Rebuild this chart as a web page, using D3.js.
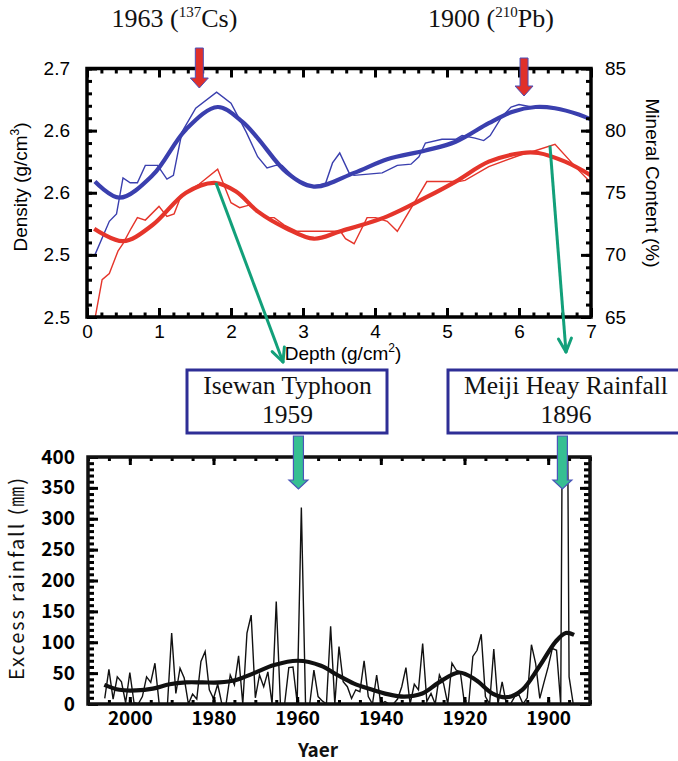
<!DOCTYPE html>
<html><head><meta charset="utf-8">
<script src="https://cdn.jsdelivr.net/npm/d3@7"></script>
<style>body{margin:0;background:#fff}svg{display:block}</style>
</head><body>
<script>
// ---------------- DATA ----------------
// Top panel: depth (g/cm2) profiles
const blueThinDepth   = [0.11,0.31,0.41,0.50,0.60,0.70,0.81,0.98,1.11,1.20,1.32,1.51,1.80,2.00,2.21,2.37,2.50,2.62,2.71,2.90,3.10,3.31,3.41,3.51,3.64,3.71,4.10,4.31,4.50,4.61,4.70,4.93,5.12,5.21,5.39,5.51,5.60,5.76,5.89,6.00,6.18,6.40,6.60,6.80,7.00];
const blueThinDensity = [2.550,2.577,2.583,2.612,2.608,2.608,2.622,2.622,2.611,2.614,2.649,2.668,2.681,2.672,2.649,2.629,2.620,2.622,2.622,2.611,2.605,2.607,2.624,2.632,2.616,2.614,2.616,2.622,2.623,2.629,2.640,2.643,2.643,2.646,2.644,2.642,2.646,2.661,2.669,2.671,2.669,2.669,2.667,2.663,2.659];
const blueSmoothDepth   = [0.11,0.45,0.91,1.375,1.815,2.16,2.37,2.78,3.15,3.71,4.17,4.70,5.12,5.58,5.90,6.23,6.50,6.83,7.00];
const blueSmoothDensity = [2.609,2.596,2.614,2.651,2.669,2.657,2.644,2.616,2.605,2.616,2.627,2.634,2.641,2.656,2.665,2.669,2.668,2.663,2.659];
const redThinDepth   = [0.115,0.21,0.31,0.43,0.50,0.61,0.70,0.81,1.00,1.11,1.21,1.31,1.56,1.815,2.00,2.12,2.25,2.37,2.50,2.60,2.74,2.92,3.52,3.59,3.71,3.89,4.01,4.17,4.31,4.72,5.16,5.25,5.58,6.00,6.18,6.50,6.83,7.00];
const redThinMineral = [65.0,68.0,68.5,70.3,70.9,72.1,73.0,72.8,73.9,73.1,73.3,74.8,75.7,76.9,74.2,73.8,74.0,73.5,73.0,73.0,72.4,71.9,71.9,71.3,70.9,73.0,73.0,72.7,71.9,75.9,75.9,76.0,77.1,78.0,78.3,78.9,76.8,75.8];
const redSmoothDepth   = [0.10,0.50,0.91,1.375,1.77,2.07,2.37,2.78,3.15,3.52,4.17,4.70,5.12,5.58,6.04,6.27,6.64,7.00];
const redSmoothMineral = [72.1,71.1,72.4,75.0,75.8,75.1,73.5,72.1,71.3,71.9,73.1,74.6,75.9,77.5,78.2,78.2,77.5,76.4];

const depthTicks = [0,1,2,3,4,5,6,7];
const densityTicks = [2.50,2.55,2.60,2.65,2.70];
const densityTickLabels = ["2.5","2.5","2.6","2.6","2.7"];
const mineralTicks = [65,70,75,80,85];

// Dating markers
const markerDepths = [1.56, 6.07];
const markerLabels = [["1963 (","137","Cs)"],["1900 (","210","Pb)"]];

// Bottom panel: annual excess rainfall (mm)
const rainYears = [2006,2005,2004,2003,2002,2001,2000,1999,1998,1997,1996,1995,1994,1993,1992,1991,1990,1989,1988,1987,
  1986,1985,1984,1983,1982,1981,1980,1979,1978,1977,1976,1975,1974,1973,1972,1971,1970,1969,1968,1967,
  1966,1965,1964,1963,1962,1961,1960,1959,1958,1957,1956,1955,1954,1953,1952,1951,1950,1949,1948,1947,
  1946,1945,1944,1943,1942,1941,1940,1939,1938,1937,1936,1935,1934,1933,1932,1931,1930,1929,1928,1927,
  1926,1925,1924,1923,1922,1921,1920,1919,1918,1917,1916,1915,1914,1913,1912,1911,1910,1909,1908,1907,
  1906,1905,1904,1903,1902,1901,1900,1899,1898,1897,1896,1895,1894];
const rainValues = [9,56,8,44,36,2,51,2,0,12,44,35,66,1,0,0,115,17,58,42,
  0,16,8,69,85,23,9,32,0,0,47,31,78,0,115,144,10,47,28,52,
  0,166,0,0,59,60,2,318,0,0,55,12,5,0,126,0,93,36,28,9,
  23,20,70,12,0,47,0,4,0,0,8,28,59,0,32,23,98,4,17,0,
  47,33,0,66,55,52,0,0,77,87,113,12,0,89,0,36,0,0,12,15,
  0,10,96,66,9,35,60,90,87,0,1200,44,0];
const rainSmoothYears  = [2006.1,2002.5,1998.5,1994.5,1990.5,1986.6,1982.6,1978.6,1974.6,1970.3,1965.5,1959.9,1954.3,1950.4,1946.4,1942.4,1938.4,1934.4,1930.1,1926.1,1921.3,1917.3,1913.3,1909.8,1906.2,1902.2,1898.2,1895.8,1893.8];
const rainSmoothValues = [31,23,22,25,32,35,35,35,39,50,63,70,62,47,33,24,16,12,17,35,51,39,17,11,23,60,101,115,112];
const yearTicks = [2000,1980,1960,1940,1920,1900];
const rainTicks = [0,50,100,150,200,250,300,350,400];

const eventYears = [1959.7, 1896.6];
const eventLabels = [["Isewan Typhoon","1959"],["Meiji Heay Rainfall","1896"]];

// ---------------- DRAW ----------------
const W=678,H=761;
const svg=d3.select("body").append("svg").attr("width",W).attr("height",H);
const BLUE="#3a3fae", RED="#e5352b", GREEN="#12a07a";
const SANS="'Liberation Sans', Arial, sans-serif";
const GOTH="'Noto Sans CJK JP', sans-serif";
const SERIF="'Liberation Serif', 'Times New Roman', serif";
const fmtInt=d3.format("d");

// ===== Top panel =====
const T={l:87,r:591,t:68.5,b:317};
const xD=d3.scaleLinear([0,7],[T.l,T.r]);
const yDen=d3.scaleLinear([2.5,2.7],[T.b,T.t]);
const yMin=d3.scaleLinear([65,85],[T.b,T.t]);

svg.append("clipPath").attr("id","clipTop").append("rect")
  .attr("x",T.l).attr("y",T.t).attr("width",T.r-T.l).attr("height",T.b-T.t);
const topG=svg.append("g").attr("clip-path","url(#clipTop)");

const lineDen=d3.line().x(d=>xD(d[0])).y(d=>yDen(d[1]));
const lineMin=d3.line().x(d=>xD(d[0])).y(d=>yMin(d[1]));
const smoothDen=d3.line().x(d=>xD(d[0])).y(d=>yDen(d[1])).curve(d3.curveCatmullRom);
const smoothMin=d3.line().x(d=>xD(d[0])).y(d=>yMin(d[1])).curve(d3.curveCatmullRom);

topG.append("path").attr("d",lineDen(d3.zip(blueThinDepth,blueThinDensity)))
  .attr("fill","none").attr("stroke",BLUE).attr("stroke-width",1.4);
topG.append("path").attr("d",lineMin(d3.zip(redThinDepth,redThinMineral)))
  .attr("fill","none").attr("stroke",RED).attr("stroke-width",1.4);
topG.append("path").attr("d",smoothDen(d3.zip(blueSmoothDepth,blueSmoothDensity)))
  .attr("fill","none").attr("stroke",BLUE).attr("stroke-width",4.2);
topG.append("path").attr("d",smoothMin(d3.zip(redSmoothDepth,redSmoothMineral)))
  .attr("fill","none").attr("stroke",RED).attr("stroke-width",4.2);

function styleAxis(g,font,size,weight){
  g.select(".domain").remove();
  g.attr("font-family",font).attr("font-size",size);
  if(weight) g.attr("font-weight",weight);
  g.selectAll(".tick line").attr("stroke","#000").attr("stroke-width",3);
  g.selectAll(".tick text").attr("fill","#000");
}
// major axes
styleAxis(svg.append("g").attr("transform",`translate(${T.l},0)`)
  .call(d3.axisLeft(yDen).tickValues(densityTicks).tickFormat((d,i)=>densityTickLabels[i]).tickSizeInner(-10).tickSizeOuter(0).tickPadding(17)),SANS,19);
styleAxis(svg.append("g").attr("transform",`translate(${T.r},0)`)
  .call(d3.axisRight(yMin).tickValues(mineralTicks).tickFormat(fmtInt).tickSizeInner(-10).tickSizeOuter(0).tickPadding(14)),SANS,19);
styleAxis(svg.append("g").attr("transform",`translate(0,${T.b})`)
  .call(d3.axisBottom(xD).tickValues(depthTicks).tickFormat(fmtInt).tickSizeInner(-9).tickSizeOuter(0).tickPadding(8)),SANS,19);
styleAxis(svg.append("g").attr("transform",`translate(0,${T.t})`)
  .call(d3.axisTop(xD).tickValues(depthTicks).tickFormat("").tickSizeInner(-9).tickSizeOuter(0)),SANS,19);
// minor ticks
const denMinor=d3.range(2.5,2.7001,0.01), minMinor=d3.range(65,85.001,1), depMinor=d3.range(0,7.001,0.2);
styleAxis(svg.append("g").attr("transform",`translate(${T.l},0)`).call(d3.axisLeft(yDen).tickValues(denMinor).tickFormat("").tickSizeInner(-5).tickSizeOuter(0)),SANS,10);
styleAxis(svg.append("g").attr("transform",`translate(${T.r},0)`).call(d3.axisRight(yMin).tickValues(minMinor).tickFormat("").tickSizeInner(-5).tickSizeOuter(0)),SANS,10);
styleAxis(svg.append("g").attr("transform",`translate(0,${T.b})`).call(d3.axisBottom(xD).tickValues(depMinor).tickFormat("").tickSizeInner(-4.5).tickSizeOuter(0)),SANS,10);
styleAxis(svg.append("g").attr("transform",`translate(0,${T.t})`).call(d3.axisTop(xD).tickValues(depMinor).tickFormat("").tickSizeInner(-5).tickSizeOuter(0)),SANS,10);
svg.append("rect").attr("x",T.l).attr("y",T.t).attr("width",T.r-T.l).attr("height",T.b-T.t)
  .attr("fill","none").attr("stroke","#000").attr("stroke-width",3.5);

// axis titles
const dt=svg.append("text").attr("transform","translate(27,187) rotate(-90)")
  .attr("text-anchor","middle").attr("font-family",SANS).attr("font-size",19).attr("fill","#000");
dt.append("tspan").text("Density (g/cm");
dt.append("tspan").attr("dy",-8).attr("font-size",12).text("3");
dt.append("tspan").attr("dy",8).text(")");
svg.append("text").attr("transform","translate(646,183) rotate(90)")
  .attr("text-anchor","middle").attr("font-family",SANS).attr("font-size",19).attr("fill","#000")
  .text("Mineral Content (%)");
const xt=svg.append("text").attr("x",343).attr("y",360)
  .attr("text-anchor","middle").attr("font-family",SANS).attr("font-size",19).attr("fill","#000");
xt.append("tspan").text("Depth (g/cm");
xt.append("tspan").attr("dy",-8).attr("font-size",12).text("2");
xt.append("tspan").attr("dy",8).text(")");

// dating labels and red arrows
const markerStarts=[111.5,428];
markerDepths.forEach((dep,i)=>{
  const t=svg.append("text").attr("x",markerStarts[i]).attr("y",27)
    .attr("font-family",SERIF).attr("font-size",26).attr("fill","#111");
  t.append("tspan").text(markerLabels[i][0]);
  t.append("tspan").attr("dy",-10).attr("font-size",15).text(markerLabels[i][1]);
  t.append("tspan").attr("dy",10).text(markerLabels[i][2]);
  const cx=xD(dep), y0=i===0?48:58, yb=i===0?78:86, yt=i===0?88:96, hw=4, hh=9;
  svg.append("path").attr("d",`M${cx-hw},${y0}L${cx+hw},${y0}L${cx+hw},${yb}L${cx+hh},${yb}L${cx},${yt}L${cx-hh},${yb}L${cx-hw},${yb}Z`)
    .attr("fill","#e0302a").attr("stroke","#4a4fb8").attr("stroke-width",1);
});

// green connectors (from peaks to events)
const connFrom=[[1.79,75.8],[6.43,78.8]];
const connTo=[[283,362],[566,352]];
connFrom.forEach((p,i)=>{
  const x1=xD(p[0]), y1=yMin(p[1]), x2=connTo[i][0], y2=connTo[i][1];
  svg.append("line").attr("x1",x1).attr("y1",y1).attr("x2",x2).attr("y2",y2)
    .attr("stroke",GREEN).attr("stroke-width",3);
  const a=Math.atan2(y2-y1,x2-x1);
  [-1,1].forEach(s=>{
    const b=a+Math.PI+s*0.45;
    svg.append("line").attr("x1",x2).attr("y1",y2).attr("x2",x2+15*Math.cos(b)).attr("y2",y2+15*Math.sin(b))
      .attr("stroke",GREEN).attr("stroke-width",3).attr("stroke-linecap","round");
  });
});

// ===== Bottom panel =====
const B={l:88,r:590,t:457,b:704};
const xY=d3.scaleLinear([2010,1890],[B.l,B.r]);
const yR=d3.scaleLinear([0,400],[B.b,B.t]);

// event boxes
const boxX=[[187,387],[448,682]];
eventLabels.forEach((lab,i)=>{
  svg.append("rect").attr("x",boxX[i][0]).attr("y",370).attr("width",boxX[i][1]-boxX[i][0]).attr("height",63)
    .attr("fill","#fff").attr("stroke","#2e2e96").attr("stroke-width",3);
  const cx=i===0?287.5:566;
  svg.append("text").attr("x",cx).attr("y",394).attr("text-anchor","middle")
    .attr("font-family",SERIF).attr("font-size",25.5).attr("fill","#111").text(lab[0]);
  svg.append("text").attr("x",cx).attr("y",423).attr("text-anchor","middle")
    .attr("font-family",SERIF).attr("font-size",25.5).attr("fill","#111").text(lab[1]);
});

svg.append("clipPath").attr("id","clipBot").append("rect")
  .attr("x",B.l).attr("y",B.t).attr("width",B.r-B.l).attr("height",B.b-B.t);
const botG=svg.append("g").attr("clip-path","url(#clipBot)");
botG.append("path").attr("d",d3.line().x(d=>xY(d[0])).y(d=>yR(d[1]))(d3.zip(rainYears,rainValues)))
  .attr("fill","none").attr("stroke","#111").attr("stroke-width",1.4);
botG.append("path").attr("d",d3.line().x(d=>xY(d[0])).y(d=>yR(d[1])).curve(d3.curveCatmullRom)(d3.zip(rainSmoothYears,rainSmoothValues)))
  .attr("fill","none").attr("stroke","#111").attr("stroke-width",4.2);

styleAxis(svg.append("g").attr("transform",`translate(${B.l},0)`)
  .call(d3.axisLeft(yR).tickValues(rainTicks).tickFormat(fmtInt).tickSizeInner(-10).tickSizeOuter(0).tickPadding(13)),GOTH,19,"bold");
styleAxis(svg.append("g").attr("transform",`translate(${B.r},0)`)
  .call(d3.axisRight(yR).tickValues(rainTicks).tickFormat("").tickSizeInner(-10).tickSizeOuter(0)),GOTH,19);
styleAxis(svg.append("g").attr("transform",`translate(0,${B.b})`)
  .call(d3.axisBottom(xY).tickValues(yearTicks).tickFormat(fmtInt).tickSizeInner(-7).tickSizeOuter(0).tickPadding(7)),GOTH,19,"bold");
styleAxis(svg.append("g").attr("transform",`translate(0,${B.t})`)
  .call(d3.axisTop(xY).tickValues(yearTicks).tickFormat("").tickSizeInner(-8).tickSizeOuter(0)),GOTH,19);
const rainMinor=d3.range(0,400.001,10), yearMinor=d3.range(1890,2010.001,5);
styleAxis(svg.append("g").attr("transform",`translate(${B.l},0)`).call(d3.axisLeft(yR).tickValues(rainMinor).tickFormat("").tickSizeInner(-6).tickSizeOuter(0)),GOTH,10);
styleAxis(svg.append("g").attr("transform",`translate(${B.r},0)`).call(d3.axisRight(yR).tickValues(rainMinor).tickFormat("").tickSizeInner(-6).tickSizeOuter(0)),GOTH,10);
styleAxis(svg.append("g").attr("transform",`translate(0,${B.b})`).call(d3.axisBottom(xY).tickValues(yearMinor).tickFormat("").tickSizeInner(-4).tickSizeOuter(0)),GOTH,10);
styleAxis(svg.append("g").attr("transform",`translate(0,${B.t})`).call(d3.axisTop(xY).tickValues(yearMinor).tickFormat("").tickSizeInner(-4).tickSizeOuter(0)),GOTH,10);
svg.append("rect").attr("x",B.l).attr("y",B.t).attr("width",B.r-B.l).attr("height",B.b-B.t)
  .attr("fill","none").attr("stroke","#111").attr("stroke-width",3.5);

svg.append("text").attr("transform","translate(24,579) rotate(-90)")
  .attr("text-anchor","middle").attr("font-family",GOTH).attr("font-size",20).attr("fill","#111")
  .attr("textLength",202).attr("lengthAdjust","spacing").text("Excess rainfall (㎜)");
svg.append("text").attr("x",318).attr("y",757).attr("text-anchor","middle")
  .attr("font-family",GOTH).attr("font-size",19).attr("font-weight","bold").attr("fill","#111").text("Yaer");

// green event arrows
eventYears.forEach(yr=>{
  const cx=xY(yr), y0=436, yb=480, yt=489, hw=5, hh=9.5;
  svg.append("path").attr("d",`M${cx-hw},${y0}L${cx+hw},${y0}L${cx+hw},${yb}L${cx+hh},${yb}L${cx},${yt}L${cx-hh},${yb}L${cx-hw},${yb}Z`)
    .attr("fill","#36bf92").attr("stroke","#4a55b8").attr("stroke-width",1.2);
});
</script>
</body></html>
